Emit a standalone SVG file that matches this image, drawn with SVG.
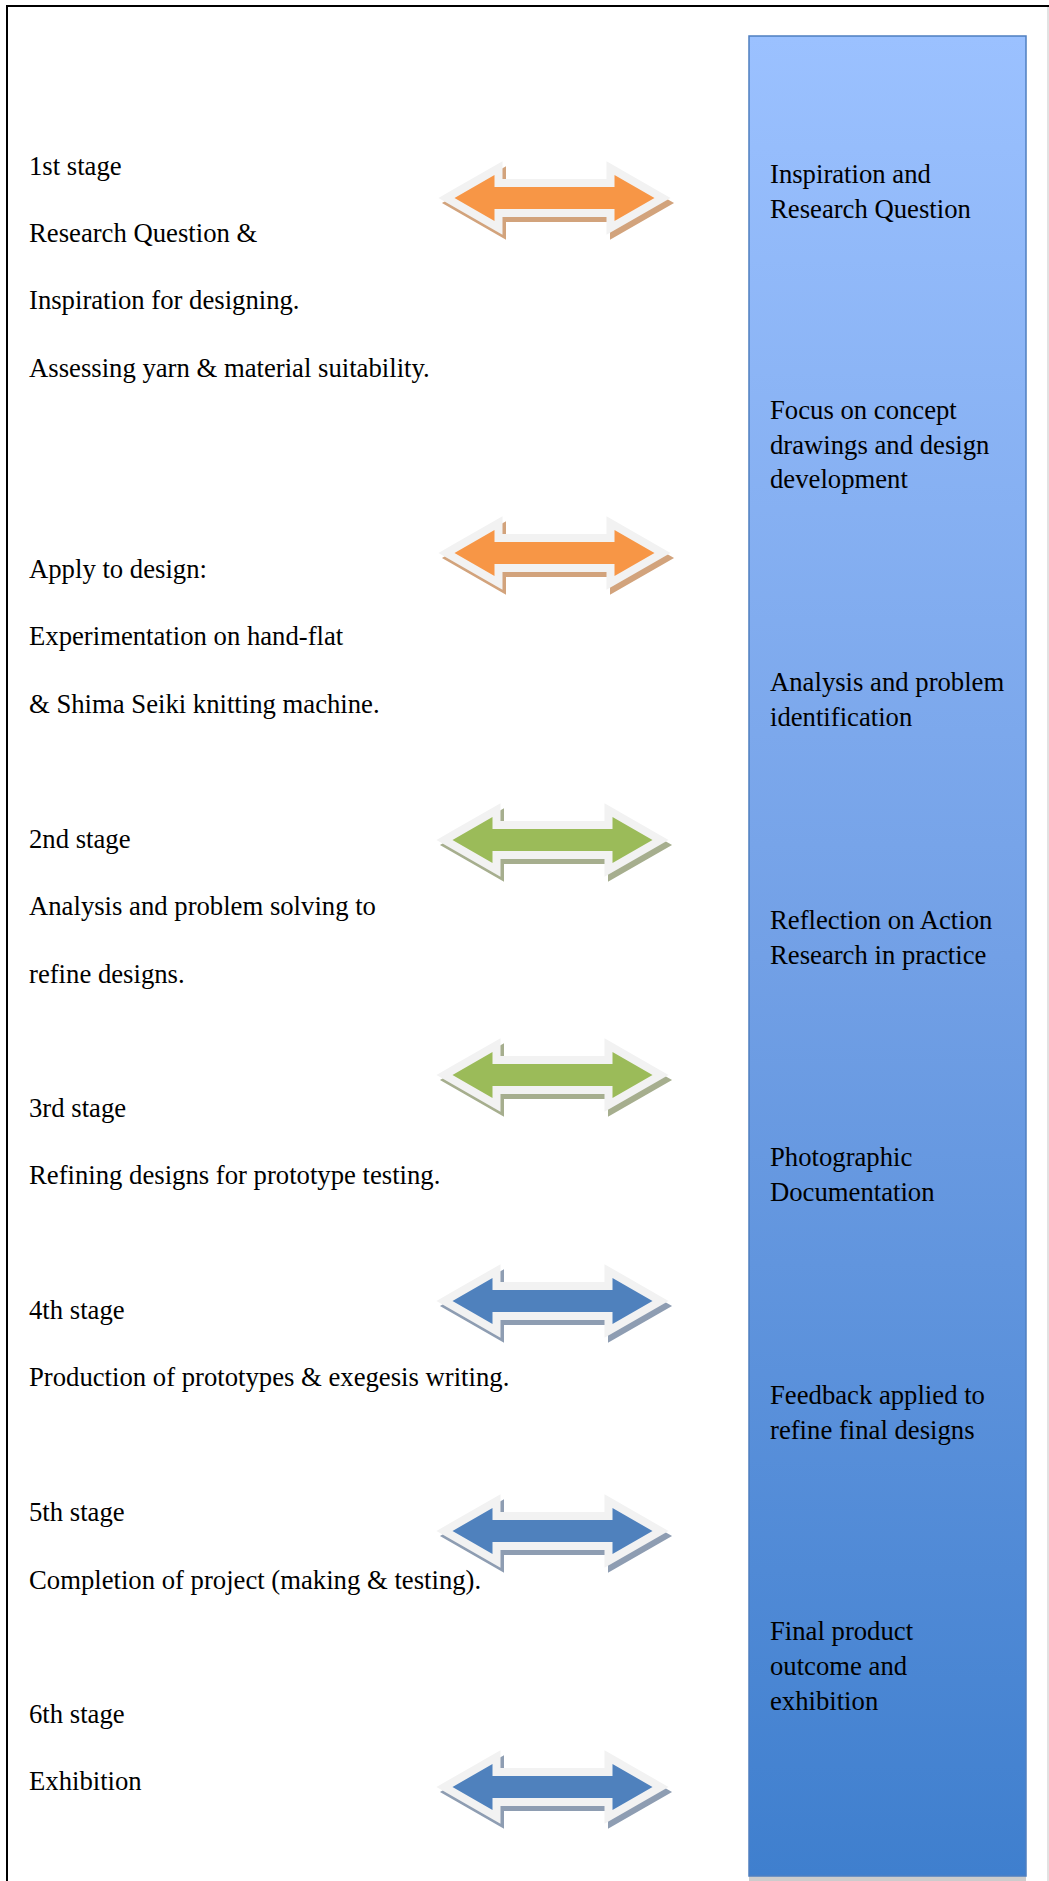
<svg xmlns="http://www.w3.org/2000/svg" xmlns:xlink="http://www.w3.org/1999/xlink" width="1049" height="1881" viewBox="0 0 1049 1881">
<defs>
<style>
text{font-family:"Liberation Serif","Times New Roman",serif;font-size:26.7px;fill:#000}
.sh{stroke-width:16;stroke-linejoin:miter}
.ar{stroke:#F2F2F2;stroke-width:16;stroke-linejoin:miter;paint-order:stroke}
</style>
<linearGradient id="barGrad" x1="0" y1="0" x2="0" y2="1">
<stop offset="0" stop-color="#9BC1FF"/>
<stop offset="0.5" stop-color="#72A0E6"/>
<stop offset="1" stop-color="#3F7FCE"/>
</linearGradient>
<path id="arr" d="M-100,0 L-60,-23 L-60,-11 L60,-11 L60,-23 L100,0 L60,23 L60,11 L-60,11 L-60,23 Z"/>
</defs>
<rect width="1049" height="1881" fill="#fff"/>
<g id="frame">
<line x1="7" y1="6" x2="1049" y2="6" stroke="#000" stroke-width="2"/>
<line x1="7" y1="5" x2="7" y2="1881" stroke="#000" stroke-width="2"/>
<line x1="1048" y1="7" x2="1048" y2="1881" stroke="#D9D9D9" stroke-width="1.5"/>
</g>
<g id="bar">
<rect x="749" y="1876" width="277" height="5" fill="#CCCCCC"/>
<rect x="749" y="36" width="277" height="1840" fill="url(#barGrad)" stroke="#4F7FC0" stroke-width="1.5"/>
<text x="770" y="183">Inspiration and</text>
<text x="770" y="218">Research Question</text>
<text x="770" y="419">Focus on concept</text>
<text x="770" y="454">drawings and design</text>
<text x="770" y="488">development</text>
<text x="770" y="691">Analysis and problem</text>
<text x="770" y="726">identification</text>
<text x="770" y="929">Reflection on Action</text>
<text x="770" y="964">Research in practice</text>
<text x="770" y="1166">Photographic</text>
<text x="770" y="1201">Documentation</text>
<text x="770" y="1404">Feedback applied to</text>
<text x="770" y="1439">refine final designs</text>
<text x="770" y="1640">Final product</text>
<text x="770" y="1675">outcome and</text>
<text x="770" y="1710">exhibition</text>
</g>
<g id="stage1">
<text x="29" y="175">1st stage</text>
<text x="29" y="242">Research Question &amp;</text>
<text x="29" y="309">Inspiration for designing.</text>
<text x="29" y="377">Assessing yarn &amp; material suitability.</text>
</g>
<g id="apply">
<text x="29" y="578">Apply to design:</text>
<text x="29" y="645">Experimentation on hand-flat</text>
<text x="29" y="713">&amp; Shima Seiki knitting machine.</text>
</g>
<g id="stage2">
<text x="29" y="848">2nd stage</text>
<text x="29" y="915">Analysis and problem solving to</text>
<text x="29" y="983">refine designs.</text>
</g>
<g id="stage3">
<text x="29" y="1117">3rd stage</text>
<text x="29" y="1184">Refining designs for prototype testing.</text>
</g>
<g id="stage4">
<text x="29" y="1319">4th stage</text>
<text x="29" y="1386">Production of prototypes &amp; exegesis writing.</text>
</g>
<g id="stage5">
<text x="29" y="1521">5th stage</text>
<text x="29" y="1589">Completion of project (making &amp; testing).</text>
</g>
<g id="stage6">
<text x="29" y="1723">6th stage</text>
<text x="29" y="1790">Exhibition</text>
</g>
<g id="connectors">
<use xlink:href="#arr" href="#arr" x="558" y="203" class="sh" fill="#D2A37C" stroke="#D2A37C"/>
<use xlink:href="#arr" href="#arr" x="554.5" y="198" class="ar" fill="#F79646"/>
<use xlink:href="#arr" href="#arr" x="558" y="558" class="sh" fill="#D2A37C" stroke="#D2A37C"/>
<use xlink:href="#arr" href="#arr" x="554.5" y="553" class="ar" fill="#F79646"/>
<use xlink:href="#arr" href="#arr" x="556" y="845" class="sh" fill="#A6AE8E" stroke="#A6AE8E"/>
<use xlink:href="#arr" href="#arr" x="552.5" y="840" class="ar" fill="#9BBB59"/>
<use xlink:href="#arr" href="#arr" x="556" y="1080" class="sh" fill="#A6AE8E" stroke="#A6AE8E"/>
<use xlink:href="#arr" href="#arr" x="552.5" y="1075" class="ar" fill="#9BBB59"/>
<use xlink:href="#arr" href="#arr" x="556" y="1306" class="sh" fill="#8E9DB2" stroke="#8E9DB2"/>
<use xlink:href="#arr" href="#arr" x="552.5" y="1301" class="ar" fill="#4F81BD"/>
<use xlink:href="#arr" href="#arr" x="556" y="1536" class="sh" fill="#8E9DB2" stroke="#8E9DB2"/>
<use xlink:href="#arr" href="#arr" x="552.5" y="1531" class="ar" fill="#4F81BD"/>
<use xlink:href="#arr" href="#arr" x="556" y="1792" class="sh" fill="#8E9DB2" stroke="#8E9DB2"/>
<use xlink:href="#arr" href="#arr" x="552.5" y="1787" class="ar" fill="#4F81BD"/>
</g>
</svg>
